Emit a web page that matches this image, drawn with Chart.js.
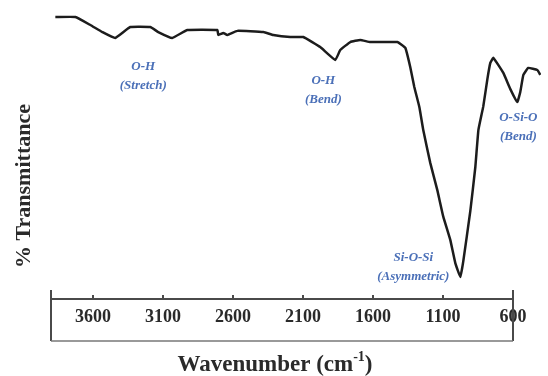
<!DOCTYPE html>
<html>
<head>
<meta charset="utf-8">
<script src="https://cdn.jsdelivr.net/npm/chart.js@4"></script>
<style>
  html, body { margin: 0; padding: 0; background: #fff; }
  #wrap { width: 548px; height: 376px; }
</style>
</head>
<body>
<div id="wrap"><canvas id="ftir"></canvas></div>
<script>
// spectrum (cm-1, % transmittance)
const wavenumbers = [3869, 3726, 3619, 3533, 3441, 3334, 3191, 3134, 3034, 2926, 2712, 2705, 2669, 2641, 2569, 2383, 2312, 2191, 2098, 1977, 1869, 1834, 1762, 1691, 1619, 1426, 1369, 1334, 1305, 1269, 1241, 1191, 1141, 1098, 1048, 1012, 976, 955, 905, 869, 847, 812, 783, 762, 740, 669, 619, 569, 548, 526, 491, 426, 405];
const transmittance = [95.9, 95.9, 93.2, 90.8, 88.8, 92.5, 92.5, 90.8, 88.8, 91.5, 91.5, 89.8, 90.5, 89.8, 91.2, 90.8, 89.8, 89.1, 89.1, 85.7, 81.3, 84.7, 87.4, 88.1, 87.4, 87.4, 85.4, 78.9, 72.1, 65.3, 57.5, 46.3, 37.1, 28.0, 20.1, 12.2, 7.5, 12.9, 29.9, 44.9, 57.5, 65.6, 74.8, 80.3, 82.0, 76.9, 71.4, 67.0, 70.4, 76.2, 78.6, 77.9, 76.2];
const tickValues = [3600, 3100, 2600, 2100, 1600, 1100, 600];

// band labels
const peakNames = ['O-H', 'O-H', 'O-Si-O', 'Si-O-Si'];
const peakModes = ['(Stretch)', '(Bend)', '(Bend)', '(Asymmetric)'];
const labelWavenumbers = [3241, 1955, 562, 1312];
const labelTransmittance = [79.0, 74.2, 61.6, 14.0];

const serif = "'Liberation Serif', 'DejaVu Serif', serif";

// axis box, inner ticks, band labels and axis titles
const decor = {
  id: 'decor',
  afterDraw(chart) {
    const ctx = chart.ctx;
    const x = chart.scales.x, y = chart.scales.y;
    const x0 = x.getPixelForValue(3900), x1 = x.getPixelForValue(600);
    const top = chart.chartArea.bottom;
    const bot = top + 42;
    ctx.save();
    ctx.strokeStyle = '#4a4a4a';
    ctx.lineWidth = 2;
    ctx.beginPath();
    ctx.moveTo(x0, top); ctx.lineTo(x1, top);
    ctx.moveTo(x0, top - 9); ctx.lineTo(x0, bot);
    ctx.moveTo(x1, top - 9); ctx.lineTo(x1, bot);
    tickValues.forEach(v => {
      const px = x.getPixelForValue(v);
      ctx.moveTo(px, top); ctx.lineTo(px, top - 4);
    });
    ctx.stroke();
    ctx.strokeStyle = '#777';
    ctx.lineWidth = 1.5;
    ctx.beginPath();
    ctx.moveTo(x0, bot); ctx.lineTo(x1, bot);
    ctx.stroke();

    // band labels
    ctx.fillStyle = '#4b70b8';
    ctx.font = "italic bold 13px " + serif;
    ctx.textAlign = 'center';
    ctx.textBaseline = 'middle';
    peakNames.forEach((name, i) => {
      const px = x.getPixelForValue(labelWavenumbers[i]);
      const py = y.getPixelForValue(labelTransmittance[i]);
      ctx.fillText(name, px, py);
      ctx.fillText(peakModes[i], px, py + 19);
    });

    // y title
    ctx.fillStyle = '#2a2a2a';
    ctx.font = "bold 22px " + serif;
    ctx.translate(24, 186);
    ctx.rotate(-Math.PI / 2);
    ctx.fillText('% Transmittance', 0, 0);
    ctx.setTransform(1, 0, 0, 1, 0, 0);

    // x title with superscript
    const main = 'Wavenumber (cm', sup = '-1', end = ')';
    ctx.font = "bold 23px " + serif;
    const wMain = ctx.measureText(main).width, wEnd = ctx.measureText(end).width;
    ctx.font = "bold 14px " + serif;
    const wSup = ctx.measureText(sup).width;
    let sx = 275 - (wMain + wSup + wEnd) / 2;
    ctx.textAlign = 'left';
    ctx.textBaseline = 'alphabetic';
    ctx.font = "bold 23px " + serif;
    ctx.fillText(main, sx, 371);
    ctx.font = "bold 14px " + serif;
    ctx.fillText(sup, sx + wMain, 361);
    ctx.font = "bold 23px " + serif;
    ctx.fillText(end, sx + wMain + wSup, 371);
    ctx.restore();
  }
};

new Chart(document.getElementById('ftir'), {
  type: 'line',
  data: {
    datasets: [{
      data: wavenumbers.map((w, i) => ({x: w, y: transmittance[i]})),
      borderColor: '#1c1c1c',
      borderWidth: 2.5,
      pointRadius: 0,
      tension: 0.1,
      fill: false
    }]
  },
  options: {
    responsive: true,
    maintainAspectRatio: false,
    animation: false,
    layout: { padding: { left: 51, right: 7, top: 5, bottom: 0 } },
    plugins: { legend: { display: false }, tooltip: { enabled: false } },
    scales: {
      x: {
        type: 'linear',
        reverse: true,
        min: 400,
        max: 3900,
        afterBuildTicks: s => { s.ticks = tickValues.map(v => ({ value: v })); },
        afterFit: s => { s.height = 77; },
        border: { display: false },
        grid: { display: false, drawTicks: false },
        ticks: {
          autoSkip: false,
          maxRotation: 0,
          padding: 8,
          color: '#2a2a2a',
          font: { family: serif, size: 18, weight: 'bold' },
          callback: v => String(v)
        }
      },
      y: { display: false, min: 0, max: 100 }
    }
  },
  plugins: [decor]
});
</script>
</body>
</html>
